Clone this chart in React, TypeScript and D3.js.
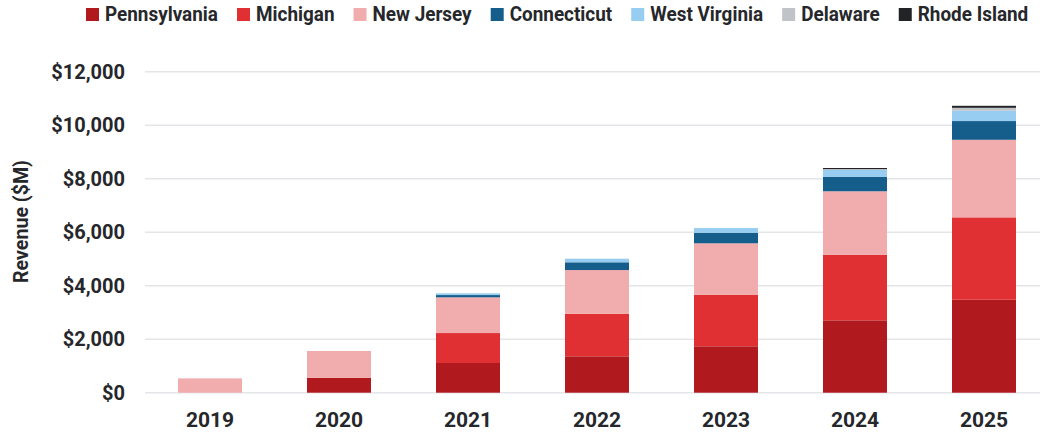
import { useEffect, useRef } from 'react';
import * as d3 from 'd3';

const years = ['2019', '2020', '2021', '2022', '2023', '2024', '2025'];
const states = ['Pennsylvania', 'Michigan', 'New Jersey', 'Connecticut', 'West Virginia', 'Delaware', 'Rhode Island'];
const pennsylvania = [0, 560, 1110, 1360, 1735, 2705, 3475];
const michigan = [0, 0, 1120, 1590, 1930, 2445, 3080];
const newJersey = [535, 1000, 1335, 1635, 1920, 2380, 2900];
const connecticut = [0, 0, 85, 290, 395, 535, 700];
const westVirginia = [0, 0, 65, 135, 175, 260, 385];
const delaware = [0, 0, 0, 0, 0, 35, 110];
const rhodeIsland = [0, 0, 0, 0, 0, 40, 75];
const yTicks = [0, 2000, 4000, 6000, 8000, 10000, 12000];
const colors = ['#b0191e', '#e03033', '#f1acad', '#155e8c', '#96cdf0', '#c0c4c9', '#222326'];

const W = 1040;
const H = 434;
const font = "Roboto, 'Liberation Sans', sans-serif";
const ink = '#26272b';

const App = () => {
  const ref = useRef<SVGSVGElement>(null);

  useEffect(() => {
    const series = [pennsylvania, michigan, newJersey, connecticut, westVirginia, delaware, rhodeIsland];
    const rows = years.map((year, i) => {
      const row: Record<string, any> = { year };
      states.forEach((s, k) => (row[s] = series[k][i]));
      return row;
    });

    const svg = d3.select(ref.current);
    svg.selectAll('*').remove();

    const x = d3.scaleBand().domain(years).range([145.5, 1048.5]).paddingInner(0.504).paddingOuter(0.252);
    const y = d3.scaleLinear().domain([0, 12000]).range([392.7, 71.7]);
    const color = d3.scaleOrdinal<string, string>().domain(states).range(colors);

    // gridlines
    svg.append('g')
      .selectAll('line')
      .data(yTicks)
      .join('line')
      .attr('x1', 145)
      .attr('x2', W)
      .attr('y1', (d) => y(d))
      .attr('y2', (d) => y(d))
      .attr('stroke', '#e3e5e8')
      .attr('stroke-width', 1.5);

    // y tick labels
    svg.append('g')
      .selectAll('text')
      .data(yTicks)
      .join('text')
      .attr('x', 125)
      .attr('y', (d) => y(d))
      .attr('dy', '0.36em')
      .attr('text-anchor', 'end')
      .attr('font-family', font)
      .attr('font-weight', 700)
      .attr('font-size', 20)
      .attr('fill', ink)
      .text((d) => `$${d3.format(',')(d)}`);

    // axis title, squeezed to look condensed
    const title = svg.append('text')
      .attr('text-anchor', 'middle')
      .attr('font-family', font)
      .attr('font-weight', 700)
      .attr('font-size', 20)
      .attr('fill', ink)
      .text('Revenue ($M)');
    const tw = (title.node() as SVGTextElement).getComputedTextLength();
    title.attr('transform', `translate(28,221.5) rotate(-90) scale(${123 / tw},1)`);

    // stacked bars
    const stacked = d3.stack<any>().keys(states)(rows);
    svg.append('g')
      .selectAll('g')
      .data(stacked)
      .join('g')
      .attr('fill', (d) => color(d.key))
      .selectAll('rect')
      .data((d) => d)
      .join('rect')
      .attr('x', (d) => x(d.data.year)!)
      .attr('width', x.bandwidth())
      .attr('y', (d) => y(d[1]))
      .attr('height', (d) => Math.max(0, y(d[0]) - y(d[1])));

    // x labels
    svg.append('g')
      .selectAll('text')
      .data(years)
      .join('text')
      .attr('x', (d) => x(d)! + x.bandwidth() / 2)
      .attr('y', 426.5)
      .attr('text-anchor', 'middle')
      .attr('font-family', font)
      .attr('font-weight', 700)
      .attr('font-size', 21)
      .attr('fill', ink)
      .text((d) => d);

    // legend (condensed look via horizontal scale)
    const legend = svg.append('g');
    let cx = 86;
    let k = 1;
    states.forEach((s, i) => {
      const item = legend.append('g').attr('transform', `translate(${cx},0)`);
      item.append('rect').attr('x', 0).attr('y', 8).attr('width', 13).attr('height', 13).attr('fill', color(s));
      const t = item.append('text')
        .attr('font-family', font)
        .attr('font-weight', 700)
        .attr('font-size', 21)
        .attr('fill', ink)
        .text(s);
      const w = (t.node() as SVGTextElement).getComputedTextLength();
      if (i === 0) k = 113 / w;
      t.attr('transform', `translate(19,21) scale(${k},1)`);
      cx += 19 + w * k + 19;
    });
  }, []);

  return (
    <svg
      ref={ref}
      width={W}
      height={H}
      style={{ position: 'absolute', left: 0, top: 0, background: '#fff' }}
    />
  );
};

export default App;
